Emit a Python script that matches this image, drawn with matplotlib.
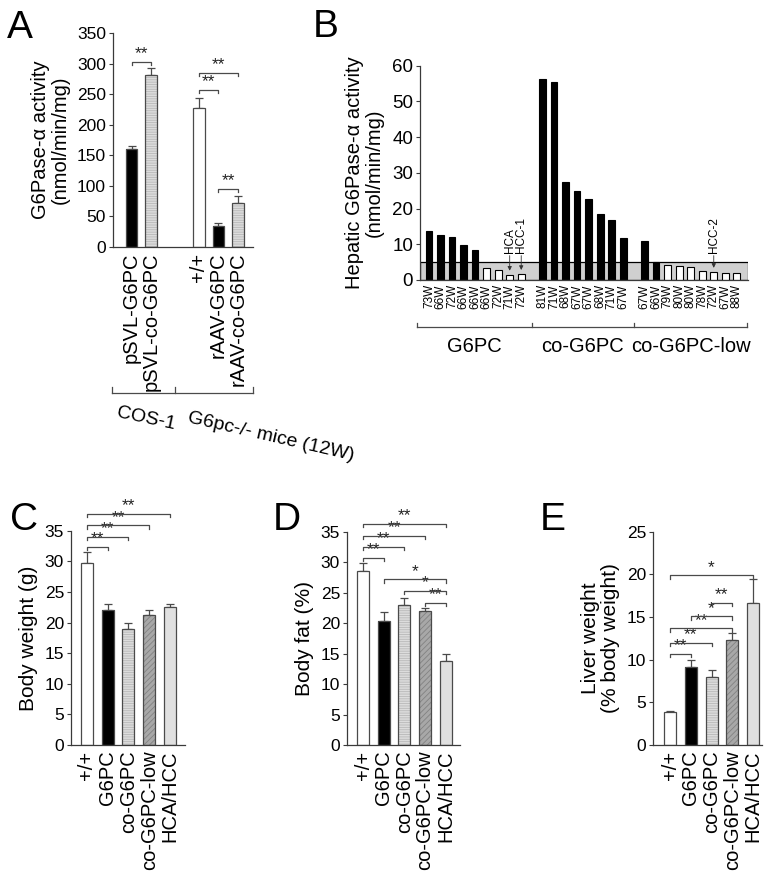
import matplotlib
matplotlib.use("Agg")
import matplotlib.pyplot as plt
import numpy as np

plt.rcParams['font.family'] = ['Liberation Sans', 'DejaVu Sans']
plt.rcParams['hatch.linewidth'] = 0.6

# ---------------- data ----------------
A_labels = ['pSVL-G6PC', 'pSVL-co-G6PC', '+/+', 'rAAV-G6PC', 'rAAV-co-G6PC']
A_vals = [160, 282, 228, 34, 72]
A_err = [6, 11, 15, 6, 12]
A_style = ['black', 'lines', 'white', 'black', 'lines']
A_sig = [(0, 1, 303, '**'), (2, 3, 257, '**'), (2, 4, 285, '**'), (3, 4, 95, '**')]
A_groups = ['COS-1', 'G6pc-/- mice (12W)']

B_group_names = ['G6PC', 'co-G6PC', 'co-G6PC-low']
B_ages = [
    ['73W', '66W', '72W', '66W', '66W', '66W', '72W', '71W', '72W'],
    ['81W', '71W', '68W', '67W', '67W', '68W', '71W', '67W'],
    ['67W', '66W', '79W', '80W', '80W', '78W', '72W', '67W', '88W'],
]
B_vals = [
    [13.7, 12.5, 11.9, 9.7, 8.4, 3.4, 2.8, 1.5, 1.7],
    [56.2, 55.5, 27.5, 25.0, 22.6, 18.4, 16.8, 11.8],
    [10.9, 4.9, 4.2, 4.0, 3.6, 2.5, 2.3, 1.9, 1.9],
]
B_black = [
    [1, 1, 1, 1, 1, 0, 0, 0, 0],
    [1, 1, 1, 1, 1, 1, 1, 1],
    [1, 1, 0, 0, 0, 0, 0, 0, 0],
]
B_tumors = [(0, 7, 'HCA'), (0, 8, 'HCC-1'), (2, 6, 'HCC-2')]
B_threshold = 5

CDE_labels = ['+/+', 'G6PC', 'co-G6PC', 'co-G6PC-low', 'HCA/HCC']
CDE_style = ['white', 'black', 'lines', 'diag', 'light']
C_vals = [29.7, 22.0, 19.0, 21.2, 22.6]
C_err = [1.8, 1.1, 0.85, 0.9, 0.4]
C_sig = [(0, 1, 32.4, '**'), (0, 2, 34.0, '**'), (0, 3, 35.9, '**'), (0, 4, 37.8, '**')]
D_vals = [28.5, 20.4, 22.9, 22.0, 13.8]
D_err = [1.3, 1.4, 1.2, 0.55, 1.2]
D_sig = [(0, 1, 30.7, '**'), (0, 2, 32.5, '**'), (0, 3, 34.3, '**'), (0, 4, 36.3, '**'),
         (1, 4, 27.2, '*'), (2, 4, 25.3, '*'), (3, 4, 23.3, '**')]
E_vals = [3.9, 9.2, 8.0, 12.3, 16.6]
E_err = [0.1, 0.8, 0.75, 0.85, 2.9]
E_sig = [(0, 4, 19.9, '*'), (2, 3, 16.7, '**'), (1, 3, 15.1, '*'), (0, 3, 13.7, '**'),
         (0, 2, 12.0, '**'), (0, 1, 10.7, '**')]

# ---------------- styling ----------------
W, H = 774, 881
fig = plt.figure(figsize=(W / 100, H / 100), dpi=100)

EDGE = '#4a4a4a'
SPINE = '#3a3a3a'
STYLES = {
    'white': dict(fc='white', hatch=None, hc=None),
    'black': dict(fc='black', hatch=None, hc=None),
    'lines': dict(fc='#dcdcdc', hatch='-------', hc='#b8b8b8'),
    'diag': dict(fc='#a8a8a8', hatch='//////', hc='#828282'),
    'light': dict(fc='#e0e0e0', hatch=None, hc=None),
}
LABEL_FS = 14.5
TICK_FS = 12.5


def add_ax(l, r, top, bottom):
    ax = fig.add_axes([l / W, 1 - bottom / H, (r - l) / W, (bottom - top) / H])
    for s in ['top', 'right']:
        ax.spines[s].set_visible(False)
    for s in ['left', 'bottom']:
        ax.spines[s].set_color(SPINE)
        ax.spines[s].set_linewidth(0.9)
    ax.tick_params(axis='y', direction='out', length=3, width=0.8, color=SPINE,
                   labelsize=TICK_FS, pad=2)
    ax.tick_params(axis='x', length=0, labelsize=LABEL_FS, pad=4)
    return ax


def draw_bars(ax, x, vals, styles, width, err=None):
    for xi, v, st in zip(x, vals, styles):
        s = STYLES[st]
        if s['hatch']:
            ax.bar(xi, v, width, color=s['fc'], edgecolor=s['hc'], hatch=s['hatch'],
                   linewidth=0, zorder=2)
        else:
            ax.bar(xi, v, width, color=s['fc'], linewidth=0, zorder=2)
        ax.bar(xi, v, width, fill=False, edgecolor=EDGE, linewidth=0.9, zorder=3)
    if err is not None:
        ax.errorbar(x, vals, yerr=[np.zeros(len(err)), err], fmt='none', ecolor=EDGE,
                    elinewidth=0.9, capsize=3.2, capthick=0.9, zorder=1)


def sig(ax, x, items, ymax):
    tick = 0.016 * ymax
    for i, j, y, lab in items:
        ax.plot([x[i], x[i], x[j], x[j]], [y - tick, y, y, y - tick], color=EDGE,
                lw=0.9, clip_on=False, zorder=4)
        ax.text((x[i] + x[j]) / 2, y + 0.002 * ymax, lab, ha='center', va='bottom',
                fontsize=12.5, color='#222222', clip_on=False)


def panel_letter(x, y, s):
    fig.text(x / W, 1 - y / H, s, fontsize=28, ha='left', va='baseline')


# ---------------- Panel A ----------------
axA = add_ax(113, 253, 33, 247)
xA = [0, 1, 3.45, 4.45, 5.45]
draw_bars(axA, xA, A_vals, A_style, 0.59, A_err)
axA.set_xlim(-0.95, 6.23)
axA.set_ylim(0, 350)
axA.set_yticks(np.arange(0, 351, 50))
axA.set_xticks(xA)
axA.set_xticklabels(A_labels, rotation=90, ha='center', va='top')
axA.set_ylabel('G6Pase-α activity\n(nmol/min/mg)', fontsize=LABEL_FS, labelpad=5,
               linespacing=1.05)
sig(axA, xA, A_sig, 350)
tr = axA.get_xaxis_transform()
ly = -0.683
axA.plot([-1.0, 6.23], [ly, ly], color=EDGE, lw=0.9, transform=tr, clip_on=False)
for xt in [-1.0, 2.25, 6.23]:
    axA.plot([xt, xt], [ly, ly + 0.03], color=EDGE, lw=0.9, transform=tr, clip_on=False)
fig.text(146 / W, 1 - 419 / H, A_groups[0], fontsize=14, rotation=-12, ha='center',
         va='center', rotation_mode='anchor')
fig.text(271 / W, 1 - 437 / H, A_groups[1], fontsize=14, rotation=-13, ha='center',
         va='center', rotation_mode='anchor')
panel_letter(7, 38, 'A')

# ---------------- Panel B ----------------
axB = add_ax(420, 748, 65.7, 280)
gap = 0.85
xB, valsB, labB, colB = [], [], [], []
starts = []
pos = 0.0
for g in range(3):
    starts.append(pos)
    for k in range(len(B_vals[g])):
        xB.append(pos + k)
        valsB.append(B_vals[g][k])
        labB.append(B_ages[g][k])
        colB.append('black' if B_black[g][k] else 'white')
    pos += len(B_vals[g]) + gap
xlB = (-0.78, xB[-1] + 0.97)
axB.axhspan(0, B_threshold, facecolor='#d0d0d0', edgecolor='black', linewidth=0.9, zorder=0)
for xi, v, c in zip(xB, valsB, colB):
    axB.bar(xi, v, 0.58, color=c, edgecolor='black', linewidth=0.8, zorder=2)
axB.set_xlim(*xlB)
axB.set_ylim(0, 60)
axB.set_yticks(np.arange(0, 61, 10))
axB.tick_params(axis='y', labelsize=13.5)
axB.set_xticks(xB)
axB.set_xticklabels(labB, rotation=90, ha='center', va='top', fontsize=8.5)
axB.tick_params(axis='x', pad=3)
axB.set_ylabel('Hepatic G6Pase-α activity\n(nmol/min/mg)', fontsize=LABEL_FS,
               labelpad=6, linespacing=1.05)
for g, k, name in B_tumors:
    xi = starts[g] + k
    v = B_vals[g][k]
    axB.annotate(name, xy=(xi, v + 1.1), xytext=(xi, 7.6), rotation=90, ha='center',
                 va='bottom', fontsize=8.5,
                 arrowprops=dict(arrowstyle='-|>', color='#333333', lw=0.6,
                                 mutation_scale=6, shrinkA=0, shrinkB=0))
trB = axB.get_xaxis_transform()
lyB = -0.22
seps = [-1.04, (xB[8] + xB[9]) / 2, (xB[16] + xB[17]) / 2, xlB[1] - 0.05]
axB.plot([seps[0], seps[-1]], [lyB, lyB], color=EDGE, lw=0.9, transform=trB, clip_on=False)
for xt in seps:
    axB.plot([xt, xt], [lyB, lyB + 0.02], color=EDGE, lw=0.9, transform=trB, clip_on=False)
for g in range(3):
    c = (seps[g] + seps[g + 1]) / 2
    axB.text(c, -0.308, B_group_names[g], transform=trB, ha='center', va='center',
             fontsize=14.5)
panel_letter(313, 37, 'B')

# ---------------- Panels C, D, E ----------------
xC = np.arange(5)
for (l, r, top, bot, xl, vals, err, sg, ymax, step, ylabel, letter, lpos) in [
    (71, 185, 530.7, 745, (-0.76, 4.72), C_vals, C_err, C_sig, 35, 5,
     'Body weight (g)', 'C', (10, 530)),
    (347, 460, 531.7, 745, (-0.78, 4.69), D_vals, D_err, D_sig, 35, 5,
     'Body fat (%)', 'D', (273, 530)),
    (653, 762, 531.7, 745, (-0.83, 4.44), E_vals, E_err, E_sig, 25, 5,
     'Liver weight\n(% body weight)', 'E', (540, 530)),
]:
    ax = add_ax(l, r, top, bot)
    draw_bars(ax, xC, vals, CDE_style, 0.58, err)
    ax.set_xlim(*xl)
    ax.set_ylim(0, ymax)
    ax.set_yticks(np.arange(0, ymax + 1, step))
    ax.set_xticks(xC)
    ax.set_xticklabels(CDE_labels, rotation=90, ha='center', va='top')
    ax.set_ylabel(ylabel, fontsize=LABEL_FS + 0.5, labelpad=5, linespacing=1.05)
    sig(ax, xC, sg, ymax)
    panel_letter(lpos[0], lpos[1], letter)

fig.savefig('out.png', dpi=100)
